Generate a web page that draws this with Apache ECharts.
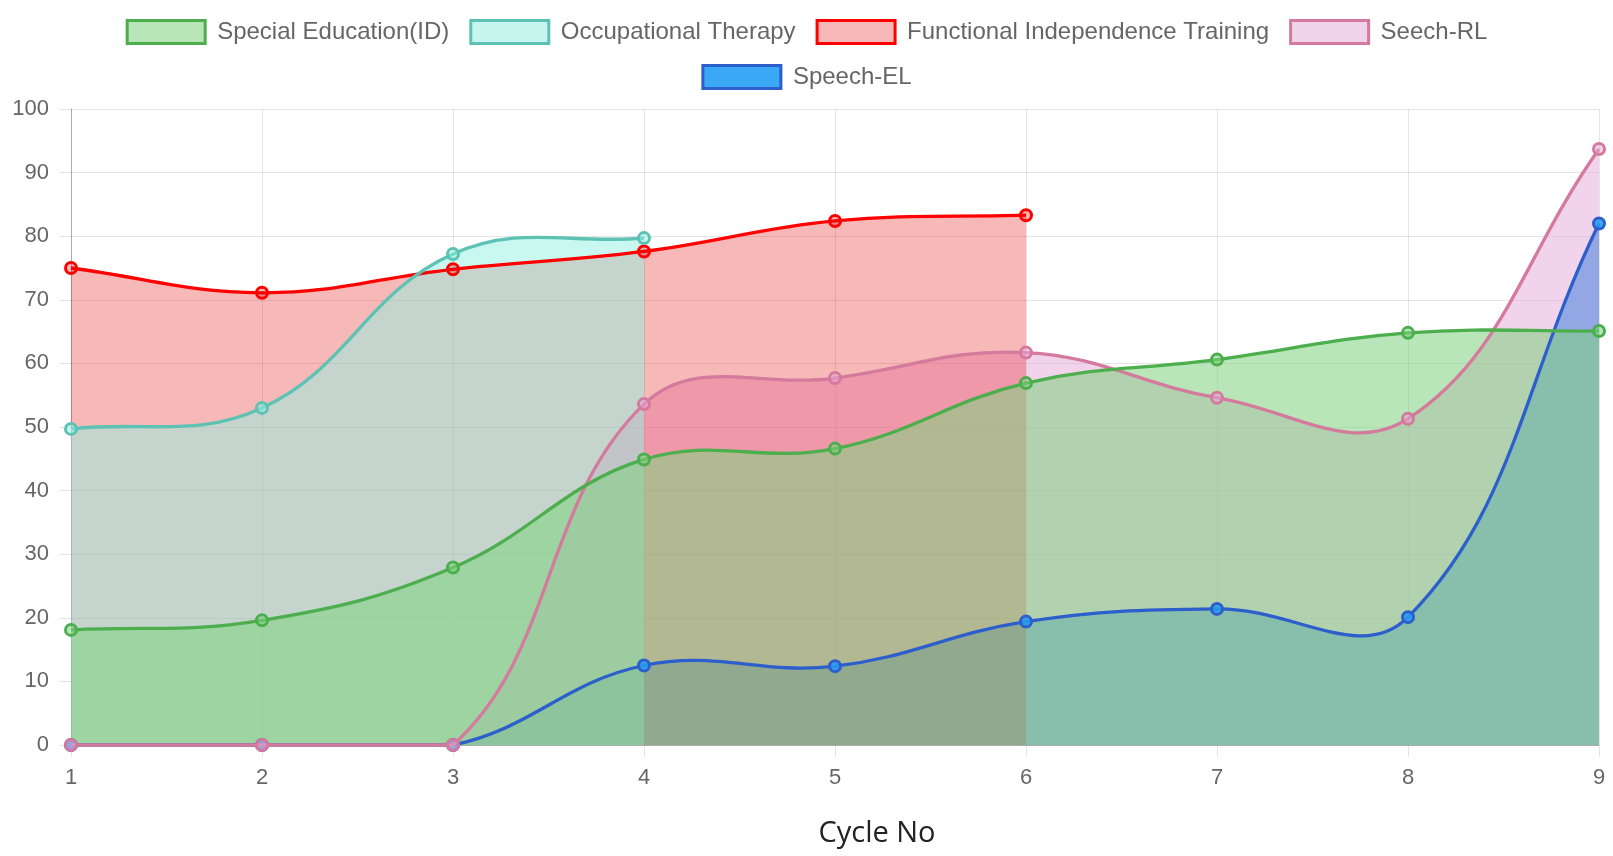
<!DOCTYPE html>
<html>
<head>
<meta charset="utf-8">
<script src="https://cdn.jsdelivr.net/npm/echarts@6/dist/echarts.min.js"></script>
<style>
  html, body { margin: 0; padding: 0; background: #fff; }
  #chart { width: 1613px; height: 856px; }
</style>
</head>
<body>
<div id="chart"></div>
<script>
const cycles = ['1', '2', '3', '4', '5', '6', '7', '8', '9']
const specialEd = [18.1, 19.6, 27.9, 44.9, 46.6, 56.9, 60.6, 64.8, 65.1]
const occTherapy = [49.7, 53, 77.2, 79.7, null, null, null, null, null]
const funcIndep = [75, 71.1, 74.8, 77.6, 82.4, 83.3, null, null, null]
const speechRL = [0, 0, 0, 53.6, 57.7, 61.7, 54.6, 51.3, 93.7]
const speechEL = [0, 0, 0, 12.5, 12.4, 19.4, 21.4, 20.1, 82.0]
const yTicks = { min: 0, max: 100, interval: 10 }

// name, data, line colour, fill colour, legend box colour
const sets = [
  ['Special Education(ID)', specialEd, '#4cae4c', 'rgba(126,210,126,0.55)', '#b8e6b8'],
  ['Occupational Therapy', occTherapy, '#5dc2b3', 'rgba(147,241,227,0.5)', '#c9f5ef'],
  ['Functional Independence Training', funcIndep, '#ff0000', 'rgba(226,0,0,0.28)', '#f7b7b7'],
  ['Seech-RL', speechRL, '#d47a9c', 'rgba(229,167,217,0.5)', '#f2d3ec'],
  ['Speech-EL', speechEL, '#2c5fcc', 'rgba(40,155,240,0.88)', '#3aa8f5']
]

const chart = echarts.init(document.getElementById('chart'))

// split a series into runs of non-null values, as pixel points
function runs(data, api) {
  const out = []
  let cur = []
  data.forEach(function(v, i) {
    if (v == null) {
      if (cur.length) out.push(cur)
      cur = []
    } else {
      cur.push(api.coord([i, v]))
    }
  })
  if (cur.length) out.push(cur)
  return out
}

// spline through the points, tension 0.4, control points kept inside the plot
function curve(pts, box) {
  const t = 0.4
  const cap = function(x, y) {
    return [
      Math.min(Math.max(x, box.x), box.x + box.width),
      Math.min(Math.max(y, box.y), box.y + box.height)
    ]
  }
  const cps = pts.map(function(p, i) {
    const prev = pts[i - 1] || p
    const next = pts[i + 1] || p
    const d01 = Math.hypot(p[0] - prev[0], p[1] - prev[1])
    const d12 = Math.hypot(next[0] - p[0], next[1] - p[1])
    let s01 = d01 / (d01 + d12)
    let s12 = d12 / (d01 + d12)
    if (isNaN(s01)) s01 = 0
    if (isNaN(s12)) s12 = 0
    const dx = next[0] - prev[0]
    const dy = next[1] - prev[1]
    return {
      prev: cap(p[0] - t * s01 * dx, p[1] - t * s01 * dy),
      next: cap(p[0] + t * s12 * dx, p[1] + t * s12 * dy)
    }
  })
  let d = 'M' + pts[0][0] + ' ' + pts[0][1]
  for (let i = 1; i < pts.length; i++) {
    const a = cps[i - 1].next
    const b = cps[i].prev
    d += ' C' + a[0] + ' ' + a[1] + ' ' + b[0] + ' ' + b[1] + ' ' + pts[i][0] + ' ' + pts[i][1]
  }
  return d
}

function fillSeries(s, z) {
  return {
    name: s[0],
    type: 'custom',
    z: z,
    silent: true,
    data: [[0, 0]],
    renderItem: function(params, api) {
      const box = params.coordSys
      const base = api.coord([0, 0])[1]
      return {
        type: 'group',
        children: runs(s[1], api).map(function(pts) {
          const last = pts[pts.length - 1]
          return {
            type: 'path',
            shape: {
              pathData: curve(pts, box) + ' L' + last[0] + ' ' + base + ' L' + pts[0][0] + ' ' + base + ' Z'
            },
            style: { fill: s[3], stroke: null }
          }
        })
      }
    }
  }
}

function lineSeries(s, z) {
  return {
    name: s[0],
    type: 'custom',
    z: z,
    silent: true,
    data: [[0, 0]],
    renderItem: function(params, api) {
      const box = params.coordSys
      const children = []
      runs(s[1], api).forEach(function(pts) {
        children.push({
          type: 'path',
          shape: { pathData: curve(pts, box) },
          style: { fill: null, stroke: s[2], lineWidth: 3.3 }
        })
        pts.forEach(function(p) {
          children.push({
            type: 'circle',
            shape: { cx: p[0], cy: p[1], r: 5.5 },
            style: { fill: s[3], stroke: s[2], lineWidth: 3 }
          })
        })
      })
      return { type: 'group', children: children }
    }
  }
}

const legendItem = function(s) {
  return {
    name: s[0],
    icon: 'rect',
    itemStyle: { color: s[4], borderColor: s[2], borderWidth: 3 }
  }
}
const legendBase = {
  left: 'center',
  width: 1600,
  itemWidth: 78,
  itemHeight: 23,
  itemGap: 20,
  selectedMode: false,
  textStyle: {
    fontFamily: 'Liberation Sans',
    fontSize: 24,
    color: '#666',
    padding: [0, 0, 0, 7]
  }
}

// first dataset on top: all fills first, then the lines with their points
const series = []
sets.forEach(function(s, i) { series.push(fillSeries(s, 5 - i)) })
sets.forEach(function(s, i) { series.push(lineSeries(s, 10 - i)) })

const option = {
  animation: false,
  legend: [
    Object.assign({}, legendBase, { top: 14, data: sets.slice(0, 4).map(legendItem) }),
    Object.assign({}, legendBase, { top: 59, data: sets.slice(4).map(legendItem) })
  ],
  grid: { left: 71, right: 14, top: 109, bottom: 111 },
  graphic: [{
    type: 'text',
    x: 877,
    y: 834,
    style: {
      text: 'Cycle No',
      fontFamily: 'Open Sans',
      fontSize: 29,
      fill: '#222',
      align: 'center',
      verticalAlign: 'middle'
    }
  }],
  xAxis: {
    type: 'category',
    data: cycles,
    boundaryGap: false,
    axisLine: { lineStyle: { color: 'rgba(0,0,0,0.25)', width: 1 } },
    axisTick: { show: true, length: 12, lineStyle: { color: 'rgba(0,0,0,0.1)' } },
    axisLabel: { fontFamily: 'Liberation Sans', fontSize: 22, color: '#666', margin: 22 },
    splitLine: { show: true, lineStyle: { color: 'rgba(0,0,0,0.1)' } }
  },
  yAxis: {
    type: 'value',
    min: yTicks.min,
    max: yTicks.max,
    interval: yTicks.interval,
    axisLine: { show: true, lineStyle: { color: 'rgba(0,0,0,0.25)', width: 1 } },
    axisTick: { show: true, length: 12, lineStyle: { color: 'rgba(0,0,0,0.1)' } },
    axisLabel: { fontFamily: 'Liberation Sans', fontSize: 22, color: '#666', margin: 22 },
    splitLine: { lineStyle: { color: 'rgba(0,0,0,0.1)' } }
  },
  series: series
}

chart.setOption(option)
</script>
</body>
</html>
